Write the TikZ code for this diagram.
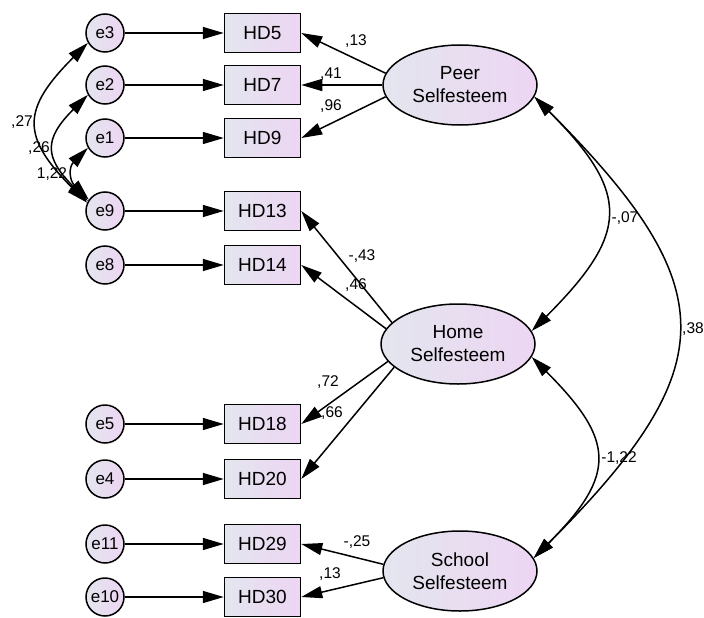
\documentclass[tikz,border=0pt]{standalone}
\usepackage{fontspec}
\setmainfont{Liberation Sans}
\usepackage{tikz}
\usetikzlibrary{positioning}
\usetikzlibrary{shapes.geometric}
\usetikzlibrary{arrows.meta}
\definecolor{fillL}{HTML}{E3E6EE}
\definecolor{fillR}{HTML}{EDD5F3}

\begin{document}
\begin{tikzpicture}
  [
    x=1pt, y=-1pt,
    err/.style={circle, draw=black, line width=1.5pt, minimum size=38pt,
      inner sep=0pt, left color=fillL, right color=fillR,
      font=\fontsize{17}{19}\selectfont},
    item/.style={rectangle, draw=black, line width=1.5pt, minimum width=76pt,
      minimum height=39pt, inner sep=0pt, left color=fillL, right color=fillR,
      font=\fontsize{19}{21}\selectfont},
    latent/.style={ellipse, draw=black, line width=1.5pt, minimum width=154pt,
      minimum height=80pt, inner sep=0pt, align=center, left color=fillL,
      right color=fillR, font=\fontsize{19}{23}\selectfont},
    ld/.style={line width=1.5pt, -{Triangle[length=21pt,width=12pt]}},
    cv/.style={line width=1.5pt,
      {Triangle[length=21pt,width=12pt]}-{Triangle[length=21pt,width=12pt]}},
    coef/.style={inner sep=0pt, text depth=0pt, font=\fontsize{15.5}{17}\selectfont}
  ]
  \useasboundingbox (0,0) rectangle (704,618);

  % error terms
  \node (e3)  at (105,33)  [err] {e3};
  \node (e2)  at (105,85)  [err] {e2};
  \node (e1)  at (105,138) [err] {e1};
  \node (e9)  at (105,211) [err] {e9};
  \node (e8)  at (105,265) [err] {e8};
  \node (e5)  at (105,424) [err] {e5};
  \node (e4)  at (105,479) [err] {e4};
  \node (e11) at (105,544) [err] {e11};
  \node (e10) at (105,597) [err] {e10};

  % observed items
  \node (hd5)  [item, right=99pt of e3]  {HD5};
  \node (hd7)  [item, right=99pt of e2]  {HD7};
  \node (hd9)  [item, right=99pt of e1]  {HD9};
  \node (hd13) [item, right=99pt of e9]  {HD13};
  \node (hd14) [item, right=99pt of e8]  {HD14};
  \node (hd18) [item, right=99pt of e5]  {HD18};
  \node (hd20) [item, right=99pt of e4]  {HD20};
  \node (hd29) [item, right=99pt of e11] {HD29};
  \node (hd30) [item, right=99pt of e10] {HD30};

  % latent factors
  \node (peer)   at (460,85)  [latent] {Peer\\Selfesteem};
  \node (home)   at (458,344) [latent] {Home\\Selfesteem};
  \node (school) at (460,571) [latent] {School\\Selfesteem};

  \foreach \e/\h in {e3/hd5, e2/hd7, e1/hd9, e9/hd13, e8/hd14,
                     e5/hd18, e4/hd20, e11/hd29, e10/hd30}
    \draw [ld] (\e.east) -- (\h.west);

  \draw [ld] (peer.171) -- (hd5.east);
  \draw [ld] (peer.180) -- (hd7.east);
  \draw [ld] (peer.189) -- (hd9.east);
  \draw [ld] (home.162) -- (hd13.east);
  \draw [ld] (home.168) -- (hd14.east);
  \draw [ld] (home.194) -- (hd18.east);
  \draw [ld] (home.200) -- (hd20.east);
  \draw [ld] (school.175) -- (hd29.east);
  \draw [ld] (school.185) -- (hd30.east);

  % covariances
  \draw [cv] (e9.155) to[out=135, in=225, looseness=1.5]  (e3.210);
  \draw [cv] (e9.150) to[out=135, in=225, looseness=1.5]  (e2.210);
  \draw [cv] (e9.145) to[out=135, in=225, looseness=1.35] (e1.210);
  \draw [cv] (peer.351) to[out=-45, in=45, looseness=1.5] (home.10);
  \draw [cv] (peer.351) to[out=-45, in=45, looseness=1.5] (school.10);
  \draw [cv] (home.350) to[out=-45, in=45, looseness=1.5] (school.10);

  % estimates
  \node (w5)  at (356,40)  [coef] {,13};
  \node (w7)  at (331,73)  [coef] {,41};
  \node (w9)  at (331,105) [coef] {,96};
  \node (w13) at (362,255) [coef] {-,43};
  \node (w14) at (356,284) [coef] {,46};
  \node (w18) at (328,381) [coef] {,72};
  \node (w20) at (332,412) [coef] {,66};
  \node (w29) at (357,541) [coef] {-,25};
  \node (w30) at (330,573) [coef] {,13};
  \node (cPH) at (625,217) [coef] {-,07};
  \node (cPS) at (693,328) [coef] {,38};
  \node (cHS) at (619,457) [coef] {-1,22};
  \node (c39) at (22,121)  [coef] {,27};
  \node (c29) at (39,147)  [coef] {,26};
  \node (c19) at (52,173)  [coef] {1,22};
\end{tikzpicture}
\end{document}
